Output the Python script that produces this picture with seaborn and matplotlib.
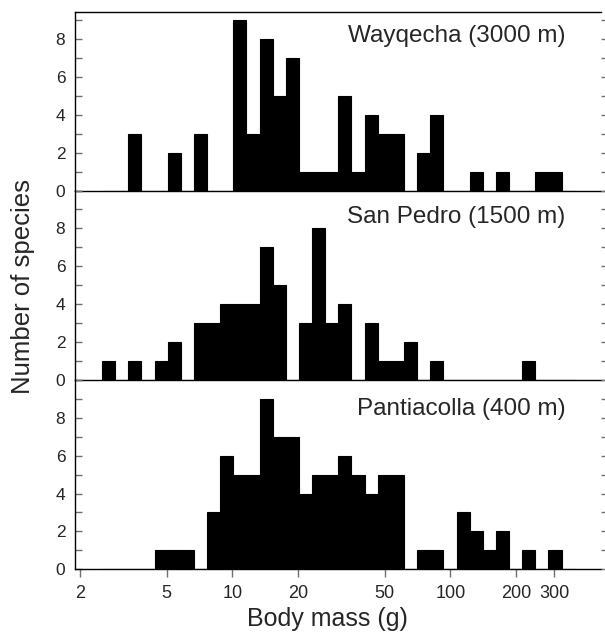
import numpy as np
import pandas as pd
import matplotlib
matplotlib.use('Agg')
import matplotlib.pyplot as plt
from matplotlib.ticker import FixedLocator, MultipleLocator, NullLocator
import seaborn as sns

# bin edges (g), log-spaced, 5 bins per doubling
bin_edges = [2.527, 2.903, 3.335, 3.831, 4.401, 5.055, 5.807, 6.670, 7.662, 8.801,
             10.11, 11.61, 13.34, 15.33, 17.61, 20.23, 23.23, 26.69, 30.66, 35.22,
             40.45, 46.47, 53.38, 61.32, 70.44, 80.91, 92.94, 106.8, 122.6, 140.9,
             161.8, 185.9, 213.5, 245.3, 281.8, 323.7, 371.8]

# number of species per bin at each site
wayqecha = [0, 0, 3, 0, 0, 2, 0, 3, 0, 0, 9, 3, 8, 5, 7, 1, 1, 1, 5, 1,
            4, 3, 3, 0, 2, 4, 0, 0, 1, 0, 1, 0, 0, 1, 1, 0]
san_pedro = [1, 0, 1, 0, 1, 2, 0, 3, 3, 4, 4, 4, 7, 5, 0, 3, 8, 3, 4, 0,
             3, 1, 1, 2, 0, 1, 0, 0, 0, 0, 0, 0, 1, 0, 0, 0]
pantiacolla = [0, 0, 0, 0, 1, 1, 1, 0, 3, 6, 5, 5, 9, 7, 7, 4, 5, 5, 6, 5,
               4, 5, 5, 0, 1, 1, 0, 3, 2, 1, 2, 0, 1, 0, 1, 0]

site_names = ['Wayqecha (3000 m)', 'San Pedro (1500 m)', 'Pantiacolla (400 m)']
site_counts = [wayqecha, san_pedro, pantiacolla]
y_tops = [9.42, 10, 10]

x_ticks = [2, 5, 10, 20, 50, 100, 200, 300]

sns.set_style('white')
plt.rcParams['font.family'] = ['Liberation Sans', 'DejaVu Sans']

edges = np.array(bin_edges)
centers = np.sqrt(edges[:-1] * edges[1:])

fig, axes = plt.subplots(3, 1, figsize=(6.05, 6.4), dpi=100,
                         gridspec_kw={'height_ratios': y_tops, 'hspace': 0})
fig.subplots_adjust(left=0.124, right=0.993, top=0.981, bottom=0.1105)

tick_col = '#707070'
label_y = [0.83, 0.826, 0.813]

for i, ax in enumerate(axes):
    df = pd.DataFrame({'mass': centers, 'n': site_counts[i]})
    sns.histplot(data=df, x='mass', weights='n', bins=list(bin_edges), ax=ax,
                 color='black', alpha=1, edgecolor='black', linewidth=0.8)
    ax.set_xscale('log')
    ax.set_xlim(1.9, 490)
    ax.set_ylim(0, y_tops[i])
    ax.set_ylabel('')
    ax.patch.set_visible(False)

    for s in ax.spines.values():
        s.set_color('black')
        s.set_linewidth(1)
        s.set_zorder(5)
    ax.spines['right'].set_visible(False)
    if i > 0:
        ax.spines['top'].set_visible(False)

    ax.yaxis.set_major_locator(FixedLocator([0, 2, 4, 6, 8]))
    ax.yaxis.set_minor_locator(MultipleLocator(1))
    ax.tick_params(axis='y', which='both', direction='in', length=5, width=1,
                   color=tick_col, left=True, labelsize=12.5, pad=7)

    # short ticks on the right side
    axr = ax.twinx()
    axr.set_ylim(0, y_tops[i])
    axr.patch.set_visible(False)
    axr.yaxis.set_major_locator(MultipleLocator(1))
    axr.yaxis.set_minor_locator(NullLocator())
    axr.tick_params(axis='y', direction='out', length=3, width=1, color=tick_col,
                    labelright=False)
    for s in axr.spines.values():
        s.set_visible(False)

    ax.text(0.933, label_y[i], site_names[i], transform=ax.transAxes,
            ha='right', va='baseline', fontsize=17.5)

    ax.xaxis.set_major_locator(FixedLocator(x_ticks))
    ax.xaxis.set_minor_locator(NullLocator())
    if i < 2:
        ax.tick_params(axis='x', which='both', bottom=False, labelbottom=False)
        ax.set_xlabel('')

ax = axes[2]
ax.set_xticklabels([str(t) for t in x_ticks])
ax.tick_params(axis='x', which='major', direction='out', length=6, width=1,
               color=tick_col, bottom=True, labelsize=13, pad=5)
ax.set_xlabel('Body mass (g)', fontsize=18)
ax.xaxis.set_label_coords((327.5 - 75) / 526, -0.2)

fig.text(23 / 605, 1 - 286 / 640, 'Number of species', rotation=90,
         ha='center', va='center', fontsize=18.5)

fig.savefig('out.png', dpi=100)
